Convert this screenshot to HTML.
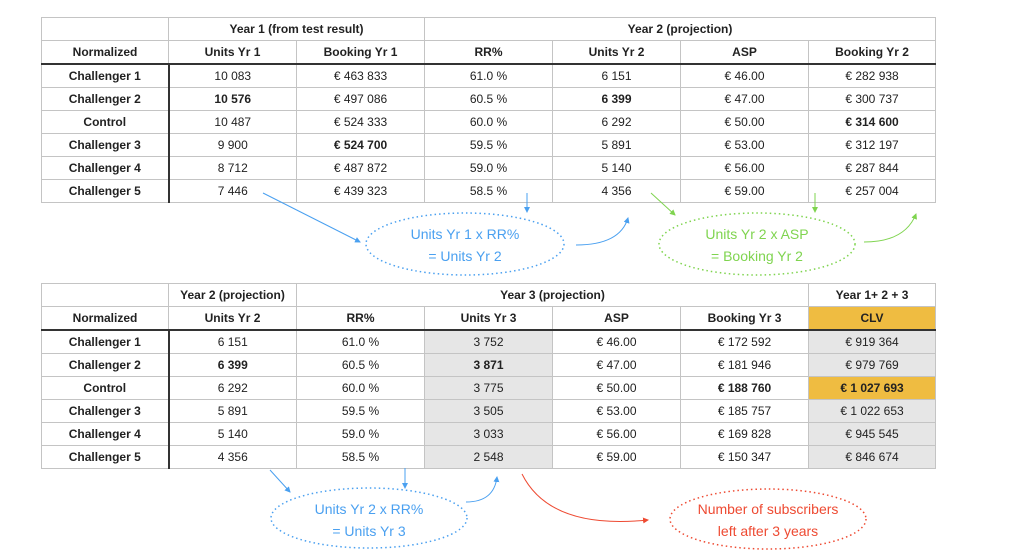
<!DOCTYPE html>
<html><head><meta charset="utf-8">
<style>
html,body{margin:0;padding:0;background:#fff;}
body{width:1024px;height:557px;position:relative;overflow:hidden;font-family:"Liberation Sans",sans-serif;color:#222;}
table{position:absolute;left:41px;border-collapse:collapse;table-layout:fixed;width:894px;font-size:12px;}
td{border:1px solid #c4c4c4;height:22px;padding:0;text-align:center;white-space:nowrap;}
tr.h td{font-weight:bold;}
tr.h2 td{border-bottom:2px solid #333;}
td.n{font-weight:bold;border-right:2px solid #333;}
td.hn{font-weight:bold;}
b{font-weight:bold;}
.g{background:#e6e6e6;}
.y{background:#efbc41;}
svg{position:absolute;left:0;top:0;}
.hand{font-family:"Liberation Sans Narrow","Liberation Sans",sans-serif;font-size:14px;}
</style></head><body>
<table style="top:17px">
<colgroup><col style="width:127px"><col style="width:128px"><col style="width:128px"><col style="width:128px"><col style="width:128px"><col style="width:128px"><col style="width:127px"></colgroup>
<tr class="h"><td></td><td colspan="2">Year 1 (from test result)</td><td colspan="4">Year 2 (projection)</td></tr>
<tr class="h h2"><td>Normalized</td><td>Units Yr 1</td><td>Booking Yr 1</td><td>RR%</td><td>Units Yr 2</td><td>ASP</td><td>Booking Yr 2</td></tr>
<tr><td class="n">Challenger 1</td><td>10 083</td><td>€ 463 833</td><td>61.0 %</td><td>6 151</td><td>€ 46.00</td><td>€ 282 938</td></tr>
<tr><td class="n">Challenger 2</td><td><b>10 576</b></td><td>€ 497 086</td><td>60.5 %</td><td><b>6 399</b></td><td>€ 47.00</td><td>€ 300 737</td></tr>
<tr><td class="n">Control</td><td>10 487</td><td>€ 524 333</td><td>60.0 %</td><td>6 292</td><td>€ 50.00</td><td><b>€ 314 600</b></td></tr>
<tr><td class="n">Challenger 3</td><td>9 900</td><td><b>€ 524 700</b></td><td>59.5 %</td><td>5 891</td><td>€ 53.00</td><td>€ 312 197</td></tr>
<tr><td class="n">Challenger 4</td><td>8 712</td><td>€ 487 872</td><td>59.0 %</td><td>5 140</td><td>€ 56.00</td><td>€ 287 844</td></tr>
<tr><td class="n">Challenger 5</td><td>7 446</td><td>€ 439 323</td><td>58.5 %</td><td>4 356</td><td>€ 59.00</td><td>€ 257 004</td></tr>
</table>

<table style="top:283px">
<colgroup><col style="width:127px"><col style="width:128px"><col style="width:128px"><col style="width:128px"><col style="width:128px"><col style="width:128px"><col style="width:127px"></colgroup>
<tr class="h"><td></td><td>Year 2 (projection)</td><td colspan="4">Year 3 (projection)</td><td>Year 1+ 2 + 3</td></tr>
<tr class="h h2"><td>Normalized</td><td>Units Yr 2</td><td>RR%</td><td>Units Yr 3</td><td>ASP</td><td>Booking Yr 3</td><td class="y">CLV</td></tr>
<tr><td class="n">Challenger 1</td><td>6 151</td><td>61.0 %</td><td class="g">3 752</td><td>€ 46.00</td><td>€ 172 592</td><td class="g">€ 919 364</td></tr>
<tr><td class="n">Challenger 2</td><td><b>6 399</b></td><td>60.5 %</td><td class="g"><b>3 871</b></td><td>€ 47.00</td><td>€ 181 946</td><td class="g">€ 979 769</td></tr>
<tr><td class="n">Control</td><td>6 292</td><td>60.0 %</td><td class="g">3 775</td><td>€ 50.00</td><td><b>€ 188 760</b></td><td class="y"><b>€ 1 027 693</b></td></tr>
<tr><td class="n">Challenger 3</td><td>5 891</td><td>59.5 %</td><td class="g">3 505</td><td>€ 53.00</td><td>€ 185 757</td><td class="g">€ 1 022 653</td></tr>
<tr><td class="n">Challenger 4</td><td>5 140</td><td>59.0 %</td><td class="g">3 033</td><td>€ 56.00</td><td>€ 169 828</td><td class="g">€ 945 545</td></tr>
<tr><td class="n">Challenger 5</td><td>4 356</td><td>58.5 %</td><td class="g">2 548</td><td>€ 59.00</td><td>€ 150 347</td><td class="g">€ 846 674</td></tr>
</table>

<svg width="1024" height="557">
<defs>
<marker id="ab" markerWidth="6" markerHeight="6" refX="5" refY="3" orient="auto"><path d="M0,0 L6,3 L0,6z" fill="#4aa0f0"/></marker>
<marker id="ag" markerWidth="6" markerHeight="6" refX="5" refY="3" orient="auto"><path d="M0,0 L6,3 L0,6z" fill="#7fd44f"/></marker>
<marker id="ar" markerWidth="6" markerHeight="6" refX="5" refY="3" orient="auto"><path d="M0,0 L6,3 L0,6z" fill="#ee4a32"/></marker>
</defs>
<g>
<ellipse cx="465" cy="244" rx="99" ry="31" fill="none" stroke="#4aa0f0" stroke-width="1.5" stroke-dasharray="1.5 3"/>
<text class="hand" x="465" y="239" text-anchor="middle" fill="#4aa0f0">Units Yr 1  x  RR%</text>
<text class="hand" x="465" y="261" text-anchor="middle" fill="#4aa0f0">= Units Yr 2</text>
<path d="M263,193 L360,242" stroke="#4aa0f0" fill="none" marker-end="url(#ab)"/>
<path d="M527,193 L527,212" stroke="#4aa0f0" fill="none" marker-end="url(#ab)"/>
<path d="M576,245 Q620,245 628,218" stroke="#4aa0f0" fill="none" marker-end="url(#ab)"/>
</g>
<g>
<ellipse cx="757" cy="244" rx="98" ry="31" fill="none" stroke="#7fd44f" stroke-width="1.5" stroke-dasharray="1.5 3"/>
<text class="hand" x="757" y="239" text-anchor="middle" fill="#7fd44f">Units Yr 2  x  ASP</text>
<text class="hand" x="757" y="261" text-anchor="middle" fill="#7fd44f">= Booking Yr 2</text>
<path d="M651,193 L675,215" stroke="#7fd44f" fill="none" marker-end="url(#ag)"/>
<path d="M815,193 L815,212" stroke="#7fd44f" fill="none" marker-end="url(#ag)"/>
<path d="M864,242 Q905,242 916,214" stroke="#7fd44f" fill="none" marker-end="url(#ag)"/>
</g>
<g>
<ellipse cx="369" cy="518" rx="98" ry="30" fill="none" stroke="#4aa0f0" stroke-width="1.5" stroke-dasharray="1.5 3"/>
<text class="hand" x="369" y="514" text-anchor="middle" fill="#4aa0f0">Units Yr 2  x  RR%</text>
<text class="hand" x="369" y="536" text-anchor="middle" fill="#4aa0f0">= Units Yr 3</text>
<path d="M270,470 L290,492" stroke="#4aa0f0" fill="none" marker-end="url(#ab)"/>
<path d="M405,468 L405,488" stroke="#4aa0f0" fill="none" marker-end="url(#ab)"/>
<path d="M466,502 Q494,502 497,477" stroke="#4aa0f0" fill="none" marker-end="url(#ab)"/>
</g>
<g>
<ellipse cx="768" cy="519" rx="98" ry="30" fill="none" stroke="#ee4a32" stroke-width="1.5" stroke-dasharray="1.5 3"/>
<text class="hand" x="768" y="514" text-anchor="middle" fill="#ee4a32">Number of subscribers</text>
<text class="hand" x="768" y="536" text-anchor="middle" fill="#ee4a32">left after 3 years</text>
<path d="M522,474 Q550,530 648,520" stroke="#ee4a32" fill="none" marker-end="url(#ar)"/>
</g>
</svg>
</body></html>
